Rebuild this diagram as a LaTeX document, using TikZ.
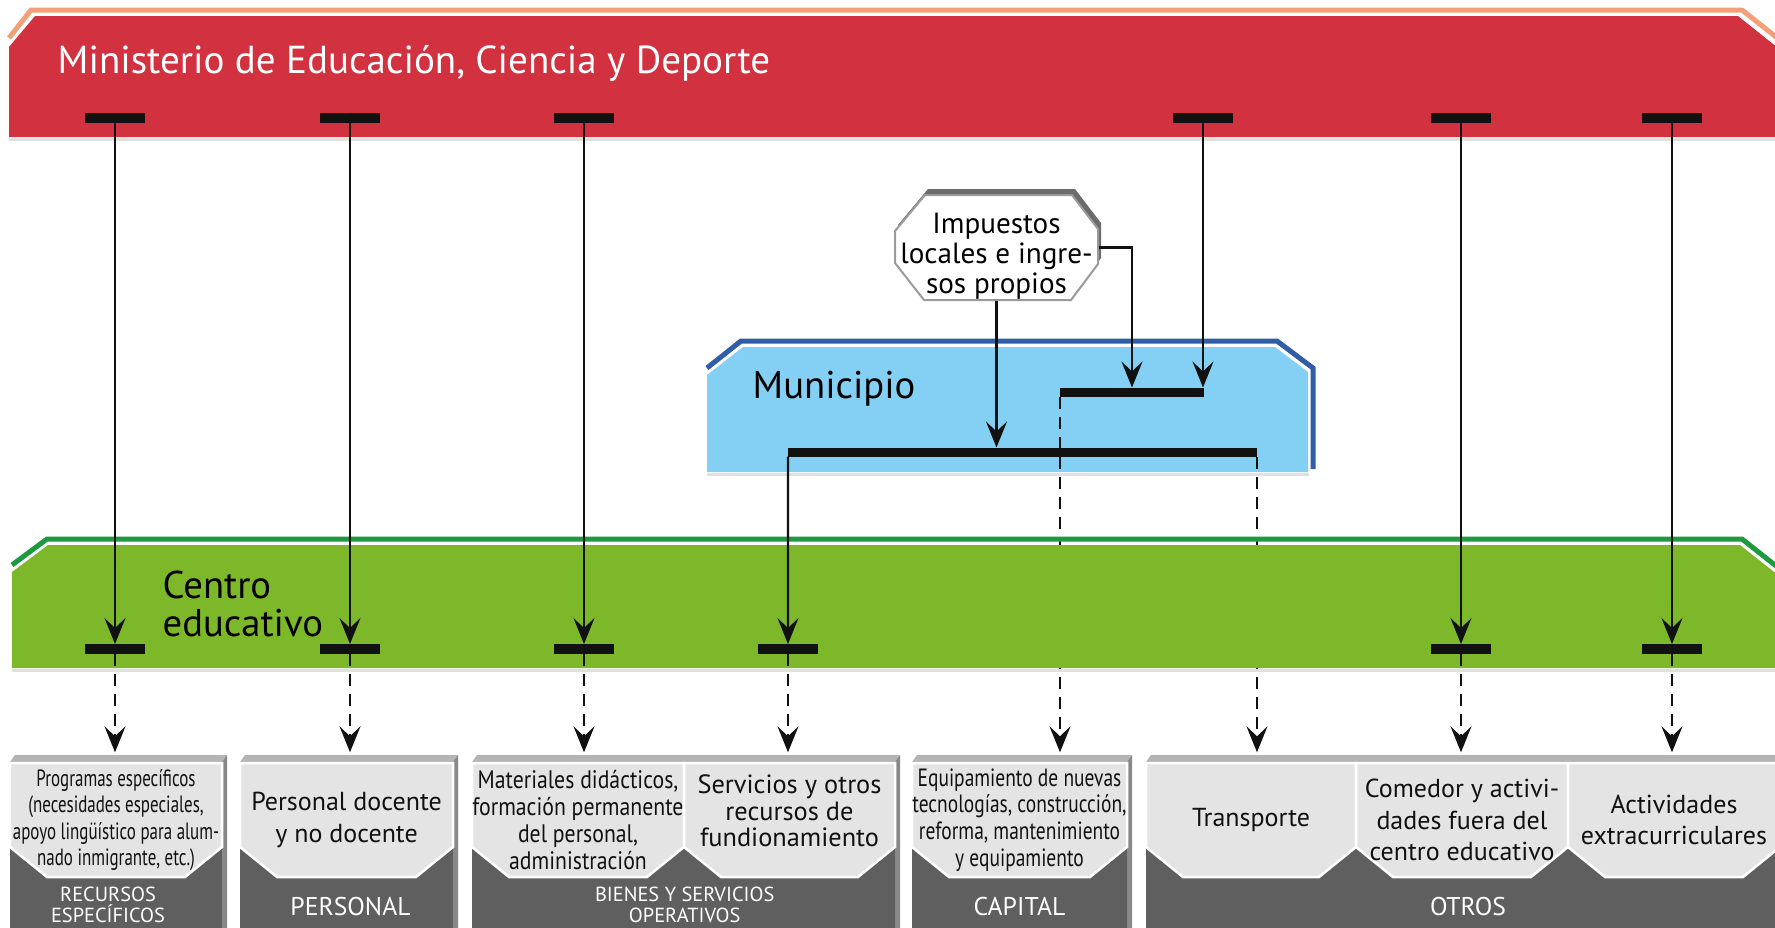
\documentclass[tikz,border=0pt]{standalone}
\usepackage{fontspec}
\setmainfont{PT Sans}
\newfontfamily\tightfont{PT Sans}[FakeStretch=0.72]
\newfontfamily\snugfont{PT Sans}[FakeStretch=0.78]
\newfontfamily\slimfont{PT Sans}[FakeStretch=0.86]
\usepackage{tikz}
\usetikzlibrary{positioning,arrows.meta}
\definecolor{ink}{HTML}{111111}
\definecolor{minred}{HTML}{D2323F}
\definecolor{minrim}{HTML}{F3A079}
\definecolor{munblue}{HTML}{84D0F5}
\definecolor{munrim}{HTML}{2F5DA8}
\definecolor{cegreen}{HTML}{7DB82A}
\definecolor{cerim}{HTML}{1D9A3E}
\definecolor{slab}{HTML}{5F5F5F}
\definecolor{slabtop}{HTML}{B4B4B4}
\definecolor{slabside}{HTML}{888888}
\definecolor{panegrey}{HTML}{E4E4E4}
\definecolor{octrim}{HTML}{9A9A9A}
\definecolor{octshade}{HTML}{6B6B6B}
\tikzset{
  bar/.style={fill=ink, minimum width=6mm, minimum height=1mm, inner sep=0pt, outer sep=0pt},
  link/.style={draw=ink, line width=0.22mm, -{Stealth[length=2.6mm,width=2.1mm,inset=1mm]}},
  feed/.style={link, dash pattern=on 1.2mm off 0.8mm, shorten >=1mm},
  rim/.style={line width=0.5mm, line join=miter},
  bandedge/.style={draw=black!12, line width=0.3mm},
  panefill/.style={fill=panegrey, draw=white, line width=0.25mm},
  pane/.style={inner sep=0pt, minimum height=11.4mm, align=center, text=ink,
               font=\fontsize{7.4}{9}\selectfont},
  slabtxt/.style={inner sep=0pt, text=white, align=center, font=\fontsize{7.3}{8}\selectfont},
  slabtxt2/.style={slabtxt, font=\fontsize{5.8}{5.9}\selectfont},
  bandtxt/.style={anchor=base west, inner sep=0pt},
}

\begin{document}
\begin{tikzpicture}[x=0.1mm, y=-0.1mm]
\useasboundingbox (0,0) rectangle (1775,928);
\clip (0,0) rectangle (1775,928);

% --- slabs at the bottom ---
\fill[slabtop] (10,762) -- (15,755) -- (227,755) -- (222,762) -- cycle;
\fill[slab] (10,762) rectangle (222,928);
\fill[slabside] (222,762) -- (227,755) -- (227,928) -- (222,928) -- cycle;
\fill[slabtop] (240,762) -- (245,755) -- (458,755) -- (453,762) -- cycle;
\fill[slab] (240,762) rectangle (453,928);
\fill[slabside] (453,762) -- (458,755) -- (458,928) -- (453,928) -- cycle;
\fill[slabtop] (472,762) -- (477,755) -- (900,755) -- (895,762) -- cycle;
\fill[slab] (472,762) rectangle (895,928);
\fill[slabside] (895,762) -- (900,755) -- (900,928) -- (895,928) -- cycle;
\fill[slabtop] (912,762) -- (917,755) -- (1132,755) -- (1127,762) -- cycle;
\fill[slab] (912,762) rectangle (1127,928);
\fill[slabside] (1127,762) -- (1132,755) -- (1132,928) -- (1127,928) -- cycle;
\fill[slabtop] (1146,762) -- (1151,755) -- (1790,755) -- (1790,762) -- cycle;
\fill[slab] (1146,762) rectangle (1790,928);

\filldraw[panefill] (10,763) -- (10,847) -- (47,877) -- (185,877) -- (222,847) -- (222,763) -- cycle;
\filldraw[panefill] (240,763) -- (240,847) -- (277,877) -- (416,877) -- (453,847) -- (453,763) -- cycle;
\filldraw[panefill] (472,763) -- (472,847) -- (509,877) -- (647,877) -- (684,847) -- (684,763) -- cycle;
\filldraw[panefill] (684,763) -- (684,847) -- (721,877) -- (858,877) -- (895,847) -- (895,763) -- cycle;
\filldraw[panefill] (912,763) -- (912,847) -- (949,877) -- (1090,877) -- (1127,847) -- (1127,763) -- cycle;
\filldraw[panefill] (1146,763) -- (1146,847) -- (1183,877) -- (1319,877) -- (1356,847) -- (1356,763) -- cycle;
\filldraw[panefill] (1356,763) -- (1356,847) -- (1393,877) -- (1531,877) -- (1568,847) -- (1568,763) -- cycle;
\filldraw[panefill] (1568,763) -- (1568,847) -- (1605,877) -- (1743,877) -- (1780,847) -- (1780,763) -- cycle;

\node[pane, minimum width=21.2mm, font=\tightfont\fontsize{6.7}{7.5}\selectfont] (progs) at (116,820)
  {Programas específicos\\(necesidades especiales,\\apoyo lingüístico para alum-\\nado inmigrante, etc.)};
\node[pane, minimum width=21.3mm] (staff) at (346.5,820) {Personal docente\\y no docente};
\node[pane, minimum width=21.2mm, font=\slimfont\fontsize{7.2}{7.6}\selectfont] (mats) at (578,820)
  {Materiales didácticos,\\formación permanente\\del personal,\\administración};
\node[pane, minimum width=21.1mm, minimum height=9.6mm, font=\fontsize{7.5}{7.6}\selectfont] (serv) at (789.5,811)
  {Servicios y otros\\recursos de\\fundionamiento};
\node[pane, minimum width=21.5mm, font=\snugfont\fontsize{7.1}{7.6}\selectfont] (equip) at (1019.5,820)
  {Equipamiento de nuevas\\tecnologías, construcción,\\reforma, mantenimiento\\y equipamiento};
\node[pane, minimum width=21mm] (trans) at (1251,820) {Transporte};
\node[pane, minimum width=21.2mm] (meals) at (1462,820) {Comedor y activi-\\dades fuera del\\centro educativo};
\node[pane, minimum width=21.2mm] (extra) at (1674,820) {Actividades\\extracurriculares};

\node[slabtxt2, below=0.9mm of progs, xshift=-0.8mm] (specific) {RECURSOS\\ESPECÍFICOS};
\node[slabtxt, below=1.9mm of staff, xshift=0.4mm] (personnel) {PERSONAL};
\node[slabtxt2, below=0.9mm of mats.south east] (goods) {BIENES Y SERVICIOS\\OPERATIVOS};
\node[slabtxt, below=1.9mm of equip] (capital) {CAPITAL};
\node[slabtxt, below=1.9mm of meals, xshift=0.6mm] (others) {OTROS};

% --- ministry ---
\fill[minred] (9,47) -- (35,16) -- (1738,16) -- (1778,48) -- (1778,137) -- (9,137) -- cycle;
\draw[minrim, rim] (9,38) -- (31,10) -- (1742,10) -- (1785,44);
\draw[bandedge] (9,139.5) -- (1775,139.5);
\node[bandtxt, text=white, font=\fontsize{11.1}{12}\selectfont] (ministry) at (57,73)
  {Ministerio de Educación, Ciencia y Deporte};

% --- municipality ---
\fill[munblue] (707,375) -- (743,347) -- (1275,347) -- (1308,372) -- (1308,472) -- (707,472) -- cycle;
\draw[munrim, rim] (707,368) -- (741,341) -- (1277,341) -- (1313,368) -- (1313,469);
\draw[bandedge] (707,474.5) -- (1309,474.5);
\node[bandtxt, font=\fontsize{11}{12}\selectfont] (muni) at (752,398) {Municipio};

\node[bar, minimum width=14.4mm, minimum height=0.9mm] (upbar) at (1132,392) {};
\draw[feed] (upbar.south west) -- (upbar.south west |- equip.north);
\node[bar, minimum width=46.9mm, minimum height=0.9mm] (lowbar) at (1022.5,452) {};
\draw[feed] (lowbar.south east) -- (lowbar.south east |- trans.north);

% --- school ---
\fill[cegreen] (12,572) -- (48,545) -- (1740,545) -- (1778,575) -- (1778,668) -- (12,668) -- cycle;
\draw[cerim, rim] (12,565) -- (47,539) -- (1742,539) -- (1785,573);
\draw[bandedge] (12,670.5) -- (1775,670.5);
\node[anchor=west, inner sep=0pt, align=left, font=\fontsize{11}{10.8}\selectfont] (school) at (162,604)
  {Centro\\educativo};

% --- local taxes ---
\fill[octshade, shift={(3,-6)}] (925,195) -- (1072,195) -- (1098,229) -- (1098,264) -- (1071,300)
  -- (924,300) -- (895,263) -- (895,231) -- cycle;
\filldraw[fill=white, draw=octrim, line width=0.2mm] (925,195) -- (1072,195) -- (1098,229) -- (1098,264)
  -- (1071,300) -- (924,300) -- (895,263) -- (895,231) -- cycle;
\node[inner sep=0pt, minimum width=20.3mm, minimum height=10.5mm, align=center, text height=9.7mm,
      font=\fontsize{8.3}{8.5}\selectfont] (taxes) at (996.5,247.5) {Impuestos\\locales e ingre-\\sos propios};
\draw[link] (taxes.south) -- (taxes.south |- lowbar.north);
\draw[link] (taxes.east) -| (upbar.north);

% --- bars and links ---
\node[bar] (m1) at (115,118) {};
\node[bar] (m2) at (350,118) {};
\node[bar] (m3) at (584,118) {};
\node[bar] (m4) at (1203,118) {};
\node[bar] (m5) at (1461,118) {};
\node[bar] (m6) at (1672,118) {};
\node[bar] (c1) at (115,649) {};
\node[bar] (c2) at (350,649) {};
\node[bar] (c3) at (584,649) {};
\node[bar] (c4) at (788,649) {};
\node[bar] (c5) at (1461,649) {};
\node[bar] (c6) at (1672,649) {};

\draw[link] (m4.south) -- (m4.south |- upbar.north);
\draw[link] (m1.south) -- (c1.north);
\draw[link] (m2.south) -- (c2.north);
\draw[link] (m3.south) -- (c3.north);
\draw[link] (m5.south) -- (c5.north);
\draw[link] (m6.south) -- (c6.north);
\draw[link] (lowbar.south west) -- (c4.north);

\draw[feed] (c1.south) -- (c1.south |- progs.north);
\draw[feed] (c2.south) -- (c2.south |- staff.north);
\draw[feed] (c3.south) -- (c3.south |- mats.north);
\draw[feed] (c4.south) -- (c4.south |- serv.north);
\draw[feed] (c5.south) -- (c5.south |- meals.north);
\draw[feed] (c6.south) -- (c6.south |- extra.north);

\end{tikzpicture}
\end{document}
